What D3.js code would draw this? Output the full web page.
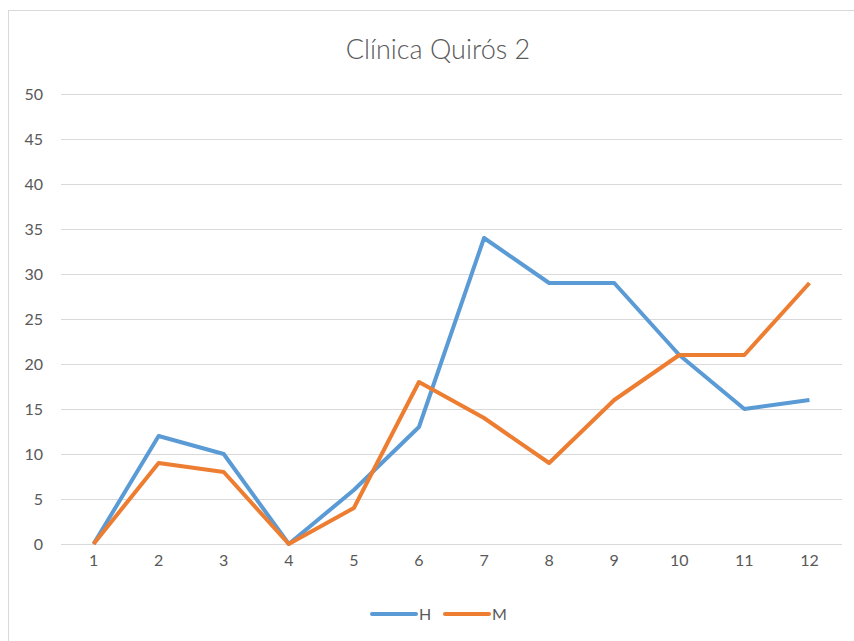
<!DOCTYPE html>
<html>
<head>
<meta charset="utf-8">
<script src="https://cdn.jsdelivr.net/npm/d3@7"></script>
<style>
body{margin:0;background:#fff;}
svg text{font-family:Lato,"Open Sans",sans-serif;fill:#595959;}
</style>
</head>
<body>
<div id="chart"></div>
<script>
// data
const categories = [1,2,3,4,5,6,7,8,9,10,11,12];
const seriesH = [0,12,10,0,6,13,34,29,29,21,15,16];
const seriesM = [0,9,8,0,4,18,14,9,16,21,21,29];
const yTicks = [0,5,10,15,20,25,30,35,40,45,50];
const series = [
	{name:'H', values:seriesH, color:'#5B9BD5'},
	{name:'M', values:seriesM, color:'#ED7D31'}
];

const W = 854, H = 641;
const svg = d3.select('#chart').append('svg')
	.attr('width',W).attr('height',H);

// chart frame
svg.append('rect')
	.attr('x',8.5).attr('y',10.5)
	.attr('width',W+20).attr('height',H+20)
	.attr('fill','#fff').attr('stroke','#d9d9d9').attr('stroke-width',1);

svg.append('text')
	.attr('x',438).attr('y',59)
	.attr('text-anchor','middle')
	.style('font-size','27px')
	.style('font-weight','300')
	.text('Clínica Quirós 2');

const plotLeft = 61, plotRight = 842, plotTop = 94, plotBottom = 544;

let x = d3.scaleBand().domain(categories).range([plotLeft,plotRight]);
let y = d3.scaleLinear().domain([0,50]).range([plotBottom,plotTop]);

// gridlines
svg.append('g')
	.selectAll('line')
	.data(yTicks)
	.enter().append('line')
	.attr('x1',plotLeft).attr('x2',plotRight)
	.attr('y1',d=>y(d)+0.5).attr('y2',d=>y(d)+0.5)
	.attr('stroke','#d9d9d9').attr('stroke-width',1);

// y axis labels
let yAxis = d3.axisLeft(y).tickValues(yTicks).tickSize(0).tickPadding(0);
let gy = svg.append('g').attr('transform','translate(43,0)').call(yAxis);
gy.select('.domain').remove();
gy.selectAll('text').style('font-size','16px').style('font-family','Lato,"Open Sans",sans-serif').attr('fill','#595959');

// x axis labels
let xAxis = d3.axisBottom(x).tickSize(0).tickPadding(0);
let gx = svg.append('g').attr('transform','translate(0,'+(plotBottom+11)+')').call(xAxis);
gx.select('.domain').remove();
gx.selectAll('text').style('font-size','16px').style('font-family','Lato,"Open Sans",sans-serif').attr('fill','#595959');

let line = d3.line()
	.x((d,i)=>x(categories[i])+x.bandwidth()/2)
	.y(d=>y(d));

series.forEach(function(s){
	svg.append('path')
		.datum(s.values)
		.attr('fill','none')
		.attr('stroke',s.color)
		.attr('stroke-width',4)
		.attr('stroke-linejoin','round')
		.attr('d',line);
});

// legend
let legendX = [372,445];
series.forEach(function(s,i){
	let g = svg.append('g').attr('transform','translate('+legendX[i]+',614)');
	g.append('line')
		.attr('x1',0).attr('x2',44)
		.attr('stroke',s.color).attr('stroke-width',4)
		.attr('stroke-linecap','round');
	g.append('text')
		.attr('x',47).attr('y',6)
		.style('font-size','16px')
		.text(s.name);
});
</script>
</body>
</html>
